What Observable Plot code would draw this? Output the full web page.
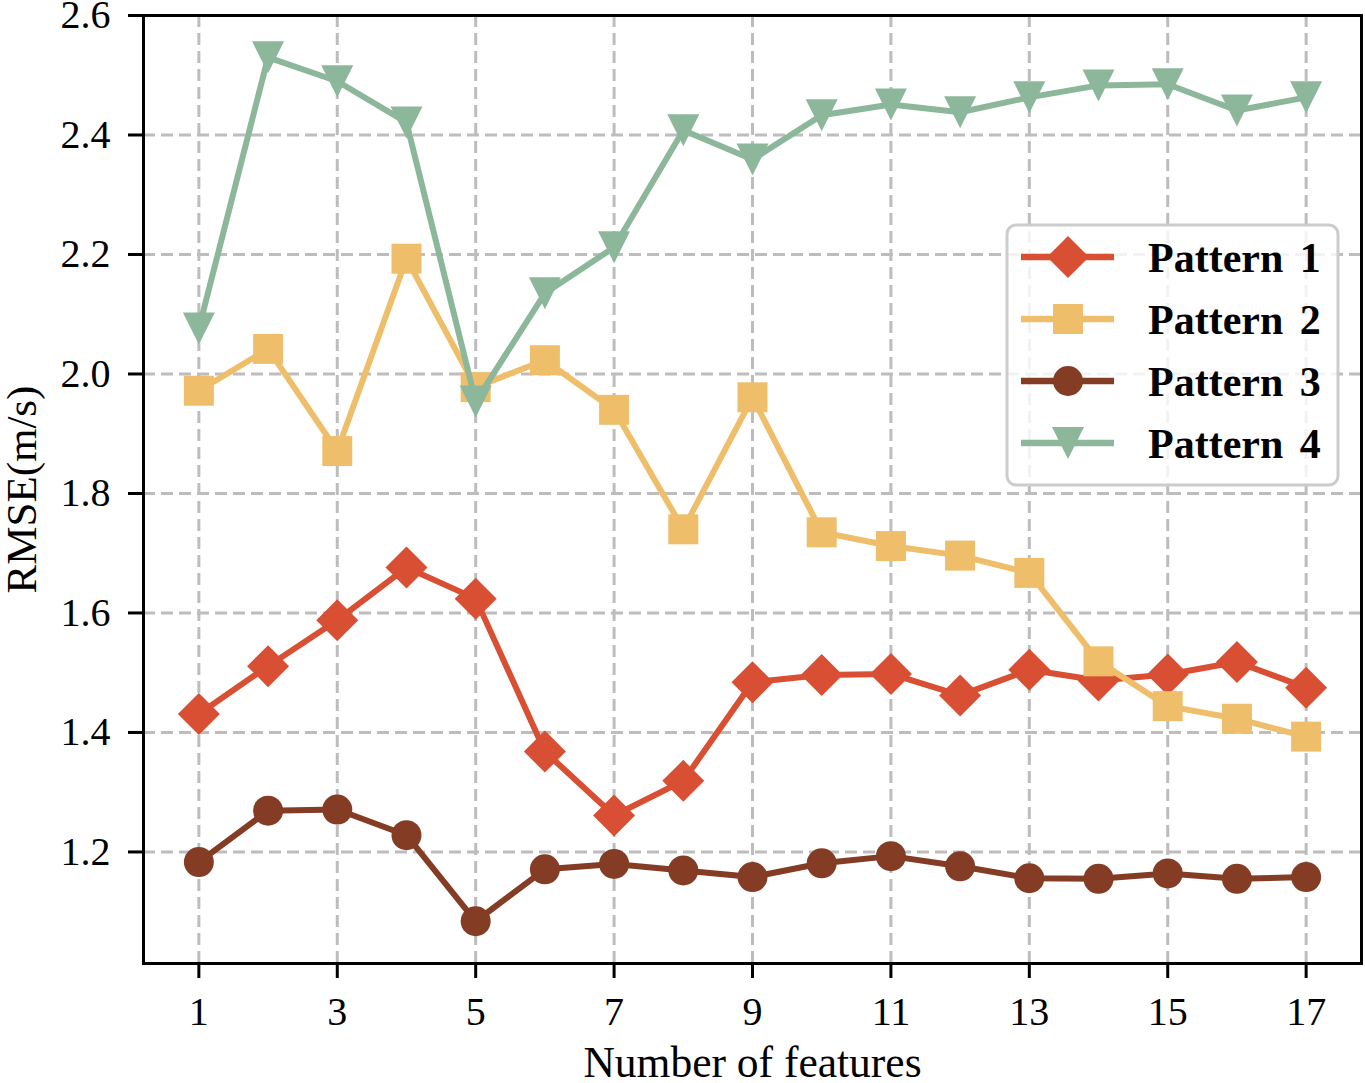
<!DOCTYPE html>
<html><head><meta charset="utf-8">
<script src="https://cdn.jsdelivr.net/npm/d3@7"></script>
<script src="https://cdn.jsdelivr.net/npm/@observablehq/plot@0.6"></script>
<style>html,body{margin:0;padding:0;background:#fff} svg{display:block}</style>
</head><body><div id="chart"></div>
<script>
const features = [1,2,3,4,5,6,7,8,9,10,11,12,13,14,15,16,17];
const pattern1 = [1.431, 1.511, 1.588, 1.676, 1.624, 1.368, 1.261, 1.319, 1.484, 1.496, 1.498, 1.462, 1.505, 1.487, 1.497, 1.518, 1.475];
const pattern2 = [1.972, 2.042, 1.871, 2.193, 1.978, 2.023, 1.940, 1.740, 1.961, 1.735, 1.712, 1.696, 1.667, 1.519, 1.444, 1.423, 1.393];
const pattern3 = [1.183, 1.269, 1.271, 1.228, 1.084, 1.171, 1.180, 1.169, 1.158, 1.181, 1.193, 1.176, 1.156, 1.155, 1.164, 1.155, 1.158];
const pattern4 = [2.076, 2.530, 2.490, 2.421, 1.954, 2.135, 2.212, 2.408, 2.359, 2.433, 2.451, 2.438, 2.463, 2.483, 2.485, 2.441, 2.463];
const seriesNames = ["Pattern 1", "Pattern 2", "Pattern 3", "Pattern 4"];
const xTicks = [1,3,5,7,9,11,13,15,17];
const yTicks = [1.2,1.4,1.6,1.8,2.0,2.2,2.4,2.6];

const colors = ["#d94f33", "#efbe6a", "#843c24", "#8db79b"];
const font = "'Liberation Serif','Times New Roman',serif";

const shapes = [
  (c) => { c.moveTo(0,-21); c.lineTo(21,0); c.lineTo(0,21); c.lineTo(-21,0); c.closePath(); },
  (c) => { c.rect(-15,-15,30,30); },
  (c) => { c.moveTo(15,0); c.arc(0,0,15,0,2*Math.PI); c.closePath(); },
  (c) => { c.moveTo(-16,-16); c.lineTo(16,-16); c.lineTo(0,16); c.closePath(); }
];
const symbols = shapes.map(f => ({draw(ctx, size){ f(ctx); }}));

const allSeries = [pattern1, pattern2, pattern3, pattern4];
const tables = allSeries.map((vals, k) => features.map((x, i) => ({x, y: vals[i], series: seriesNames[k]})));

const gridStyle = {stroke: "#bdbdbd", strokeOpacity: 1, strokeWidth: 3, strokeDasharray: "12,6"};

const seriesMarks = tables.flatMap((t, k) => [
  Plot.line(t, {x: "x", y: "y", stroke: colors[k], strokeWidth: 6}),
  Plot.dot(t, {x: "x", y: "y", symbol: symbols[k], r: 15, fill: colors[k], stroke: "none"})
]);

const W = 1365, H = 1083;
const plot = Plot.plot({
  width: W, height: H,
  marginLeft: 143, marginRight: 4, marginTop: 15, marginBottom: 120,
  style: {fontFamily: font, background: "white", color: "black", overflow: "visible"},
  x: {domain: [0.2, 17.8]},
  y: {domain: [1.0133, 2.6]},
  marks: [
    Plot.gridX(xTicks, gridStyle),
    Plot.gridY(yTicks, gridStyle),
    ...seriesMarks,
    Plot.frame({stroke: "black", strokeWidth: 3}),
    Plot.axisX(xTicks, {tickSize: 15, strokeWidth: 3, tickPadding: 18, fontSize: 40, label: null, fill: "black"}),
    Plot.axisY(yTicks, {tickSize: 15, strokeWidth: 3, tickPadding: 18, fontSize: 40, label: null, fill: "black", tickFormat: d3.format(".1f")}),
    Plot.text(["RMSE(m/s)"], {frameAnchor: "left", textAnchor: "middle", lineAnchor: "middle", text: d => d, rotate: -90, dx: -121, fontSize: 43, fill: "black"}),
    Plot.text(["Number of features"], {frameAnchor: "bottom", textAnchor: "middle", text: d => d, dy: 100, lineAnchor: "middle", fontSize: 43.5, fill: "black"})
  ]
});

// Legend
const svg = d3.select(plot);
const lg = svg.append("g").attr("text-anchor", "start");
lg.append("rect").attr("x", 1007).attr("y", 225).attr("width", 331).attr("height", 260)
  .attr("rx", 9).attr("fill", "white").attr("fill-opacity", 0.8)
  .attr("stroke", "#cccccc").attr("stroke-width", 3);
const rowY = [257, 319, 381, 443];
seriesNames.forEach((name, k) => {
  const y = rowY[k];
  lg.append("line").attr("x1", 1021).attr("x2", 1114).attr("y1", y).attr("y2", y)
    .attr("stroke", colors[k]).attr("stroke-width", 6.5);
  const p = d3.path(); shapes[k](p);
  lg.append("path").attr("d", p.toString()).attr("transform", `translate(1068,${y})`).attr("fill", colors[k]);
  lg.append("text").attr("x", 1148).attr("y", y + 15).attr("font-family", font)
    .attr("text-anchor", "start")
    .attr("font-size", 42).attr("font-weight", "bold").attr("fill", "black")
    .attr("word-spacing", "6px").text(name);
});

document.getElementById("chart").appendChild(plot);
</script>
</body></html>
